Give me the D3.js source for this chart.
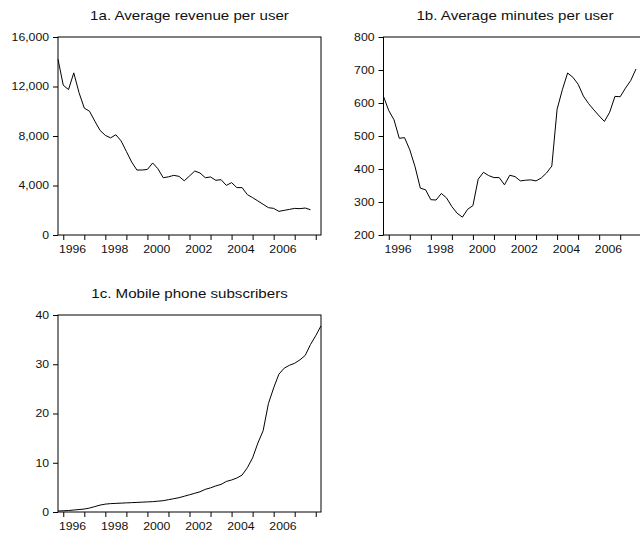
<!DOCTYPE html>
<html>
<head>
<meta charset="utf-8">
<script src="https://cdn.jsdelivr.net/npm/d3@7"></script>
<style>
  body { margin: 0; background: #fff; }
  svg { display: block; }
  text { font-family: "Liberation Sans", Arial, sans-serif; fill: #111; }
</style>
</head>
<body>
<svg id="chart" width="640" height="540"></svg>
<script>
// quarterly data, first observation 1995Q4
var firstObs = 1995.75;

var revenue = [
  14200,
  12100, 11750, 13100, 11500,
  10250, 10000, 9200, 8450,
  8050, 7850, 8100, 7600,
  6750, 5900, 5250, 5250,
  5300, 5820, 5350, 4630,
  4700, 4820, 4740, 4380,
  4770, 5170, 5010, 4630,
  4690, 4420, 4470, 4010,
  4230, 3830, 3830, 3260,
  3020, 2750, 2480, 2210,
  2150, 1910, 1990, 2070,
  2150, 2130, 2180, 2040
];

var minutes = [
  620,
  577, 549, 493, 495,
  458, 407, 342, 337,
  307, 306, 326, 312,
  286, 266, 254, 278,
  289, 369, 390, 380,
  374, 374, 352, 381,
  377, 364, 366, 367,
  364, 373, 388, 409,
  581, 640, 691, 678,
  657, 621, 598, 579,
  561, 544, 572, 620,
  619, 645, 668, 703
];

var subscribers = [
  0.2,
  0.25, 0.3, 0.4, 0.5,
  0.6, 0.8, 1.1, 1.4,
  1.6, 1.7, 1.75, 1.8,
  1.85, 1.9, 1.95, 2.0,
  2.05, 2.1, 2.2, 2.3,
  2.5, 2.7, 2.9, 3.2,
  3.5, 3.8, 4.1, 4.6,
  4.9, 5.3, 5.6, 6.2,
  6.5, 6.9, 7.5, 9.0,
  11.0, 14.0, 16.5, 22.0,
  25.2, 28.0, 29.2, 29.8,
  30.2, 30.9, 31.8, 34.0,
  35.8, 37.8
];

var revTicks = [0, 4000, 8000, 12000, 16000];
var minTicks = [200, 300, 400, 500, 600, 700, 800];
var subTicks = [0, 10, 20, 30, 40];
var yearTicks = [1996, 1997, 1998, 1999, 2000, 2001, 2002, 2003, 2004, 2005, 2006, 2007, 2008];
var yearLabels = [1996, 1998, 2000, 2002, 2004, 2006];

var panels = [
  {title: "1a. Average revenue per user", values: revenue, ticks: revTicks,
   left: 58, right: 321, top: 37, bottom: 235},
  {title: "1b. Average minutes per user", values: minutes, ticks: minTicks,
   left: 383.5, right: 646.5, top: 37, bottom: 235},
  {title: "1c. Mobile phone subscribers", values: subscribers, ticks: subTicks,
   left: 58, right: 321, top: 315, bottom: 512}
];

var svg = d3.select("#chart");
var stretch = 1.2;   // the original text is a little wide

panels.forEach(function(p){
  var x = d3.scaleLinear().domain([1995.75, 2008.25]).range([p.left, p.right]);
  var y = d3.scaleLinear()
    .domain([p.ticks[0], p.ticks[p.ticks.length - 1]])
    .range([p.bottom, p.top]);

  var g = svg.append("g");

  g.append("text")
    .attr("transform", "translate(" + ((p.left + p.right) / 2) + "," + (p.top - 17) + ") scale(" + stretch + ",1)")
    .attr("text-anchor", "middle")
    .style("font-size", "12.6px")
    .text(p.title);

  var yAxis = d3.axisLeft(y)
    .tickValues(p.ticks)
    .tickSize(5)
    .tickPadding(2.5)
    .tickFormat(d3.format(","));
  var ya = g.append("g")
    .attr("transform", "translate(" + p.left + ",0)")
    .call(yAxis);
  ya.select(".domain").remove();
  ya.selectAll("text")
    .attr("transform", "scale(" + stretch + ",1)")
    .style("font-size", "10.2px")
    .attr("font-family", null);

  var xAxis = d3.axisBottom(x)
    .tickValues(yearTicks)
    .tickSize(5)
    .tickPadding(5.8)
    .tickFormat(function(d){ return yearLabels.indexOf(d) >= 0 ? d : ""; });
  var xa = g.append("g")
    .attr("transform", "translate(0," + p.bottom + ")")
    .call(xAxis);
  xa.select(".domain").remove();
  xa.selectAll("text")
    .attr("x", 8.8 / stretch)
    .attr("transform", "scale(" + stretch + ",1)")
    .style("font-size", "10.2px")
    .attr("font-family", null);

  g.selectAll(".tick line").attr("stroke", "#000");

  g.append("rect")
    .attr("x", p.left)
    .attr("y", p.top)
    .attr("width", p.right - p.left)
    .attr("height", p.bottom - p.top)
    .attr("fill", "none")
    .attr("stroke", "#000")
    .attr("stroke-width", 1);

  var line = d3.line()
    .x(function(d, i){ return x(firstObs + i * 0.25); })
    .y(function(d){ return y(d); });

  g.append("path")
    .datum(p.values)
    .attr("d", line)
    .attr("fill", "none")
    .attr("stroke", "#000")
    .attr("stroke-width", 1);
});
</script>
</body>
</html>
